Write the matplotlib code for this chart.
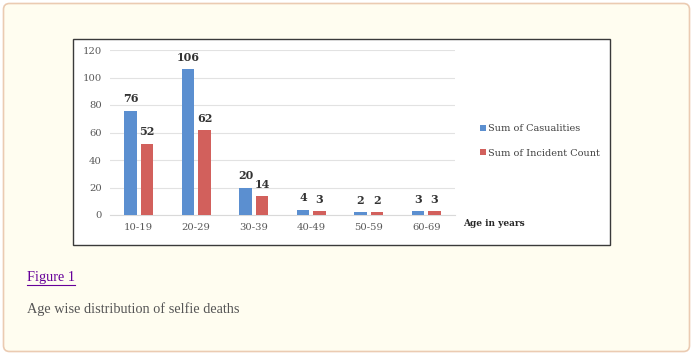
import matplotlib.pyplot as plt
import numpy as np
from matplotlib.patches import FancyBboxPatch, Rectangle

W, H = 694, 356

age_groups = ["10-19", "20-29", "30-39", "40-49", "50-59", "60-69"]
casualities = [76, 106, 20, 4, 2, 3]
incidents = [52, 62, 14, 3, 2, 3]
yticks = [0, 20, 40, 60, 80, 100, 120]

blue = "#5b8fd0"
red = "#d2605c"
chart_font = "DejaVu Serif"

fig = plt.figure(figsize=(W / 100, H / 100), dpi=100)
fig.patch.set_facecolor("white")

# page background in pixel coordinates
bg = fig.add_axes([0, 0, 1, 1])
bg.set_xlim(0, W)
bg.set_ylim(H, 0)
bg.axis("off")
bg.add_patch(FancyBboxPatch((3.5, 3.5), 686, 348, boxstyle="round,pad=0,rounding_size=6",
                            facecolor="#fffdf0", edgecolor="#ebcbb2", linewidth=1.2))
bg.add_patch(Rectangle((73.5, 38.5), 537, 206.5, facecolor="white", edgecolor="#3a3a3a", linewidth=1))
bg.text(27, 278, "Figure 1", fontsize=10.3, family="Liberation Serif", color="#660099",
        ha="left", va="center")
bg.plot([27, 75], [285, 285], color="#660099", linewidth=0.8)
bg.text(27, 309, "Age wise distribution of selfie deaths", fontsize=10.3, family="Liberation Serif",
        color="#555555", ha="left", va="center")
bg.text(463, 223, "Age in years", fontsize=6.5, family=chart_font, fontweight="bold",
        color="#262626", ha="left", va="center")

# chart
ax = fig.add_axes([110 / W, 141 / H, 345 / W, 165 / H])
ax.set_facecolor("none")
x = np.arange(len(age_groups))
bw = 0.22
b1 = ax.bar(x - 0.145, casualities, bw, color=blue, label="Sum of Casualities", zorder=3)
b2 = ax.bar(x + 0.145, incidents, bw, color=red, label="Sum of Incident Count", zorder=3)

for bars, vals in [(b1, casualities), (b2, incidents)]:
    for r, v in zip(bars, vals):
        ax.annotate(str(v), (r.get_x() + r.get_width() / 2, v), xytext=(0, 4.5),
                    textcoords="offset points", ha="center", va="bottom",
                    fontsize=8, fontweight="bold", family=chart_font, color="#333333",
                    annotation_clip=False)

ax.set_xlim(-0.5, 5.5)
ax.set_ylim(0, 120)
ax.set_yticks(yticks)
ax.set_xticks(x, age_groups)
ax.tick_params(length=0, labelsize=7.2, labelcolor="#595959", pad=6)
for lab in ax.get_xticklabels() + ax.get_yticklabels():
    lab.set_family(chart_font)
ax.grid(axis="y", color="#e2e2e2", linewidth=0.8, zorder=0)
for s in ["top", "right", "left"]:
    ax.spines[s].set_visible(False)
ax.spines["bottom"].set_color("#d9d9d9")

leg = ax.legend(loc="center left", bbox_to_anchor=(471 / W, 1 - 141 / H), bbox_transform=fig.transFigure,
                frameon=False, handlelength=0.6, handleheight=0.6, handletextpad=0.3,
                labelspacing=1.6, prop={"family": chart_font, "size": 7})
for t in leg.get_texts():
    t.set_color("#404040")

fig.savefig("out.png", dpi=100, facecolor=fig.get_facecolor())
